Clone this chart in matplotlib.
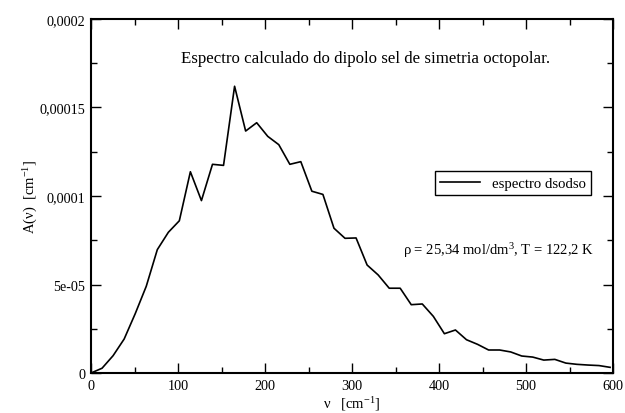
import matplotlib
matplotlib.use('Agg')
import matplotlib.pyplot as plt
from matplotlib.ticker import FixedLocator, FixedFormatter, MultipleLocator

# spectrum (frequency in cm^-1, A in cm^-1)
nu = [0.0, 12.7, 25.4, 38.1, 50.8, 63.5, 76.2, 88.9, 101.5, 114.2,
      126.9, 139.6, 152.3, 165.0, 177.7, 190.4, 203.1, 215.8, 228.5, 241.1,
      253.8, 266.5, 279.2, 291.9, 304.6, 317.3, 330.0, 342.7, 355.3, 368.0,
      380.7, 393.4, 406.1, 418.8, 431.5, 444.2, 456.9, 469.6, 482.3, 495.0,
      507.6, 520.3, 533.0, 545.7, 558.4, 571.1, 583.8, 596.5]
A = [0.0, 2.7e-6, 9.8e-6, 19.2e-6, 33.5e-6, 49.0e-6, 69.7e-6, 79.5e-6, 86.0e-6, 113.7e-6,
     97.4e-6, 117.9e-6, 117.3e-6, 162.0e-6, 136.7e-6, 141.4e-6, 133.7e-6, 129.0e-6, 117.9e-6, 119.4e-6,
     102.7e-6, 100.9e-6, 81.8e-6, 76.1e-6, 76.3e-6, 61.0e-6, 55.4e-6, 47.9e-6, 47.9e-6, 38.6e-6,
     39.0e-6, 32.0e-6, 22.2e-6, 24.3e-6, 18.8e-6, 16.2e-6, 13.0e-6, 13.0e-6, 11.9e-6, 9.6e-6,
     9.0e-6, 7.3e-6, 7.7e-6, 5.6e-6, 4.9e-6, 4.5e-6, 4.2e-6, 3.2e-6]

y_ticks = [0, 5e-5, 1e-4, 1.5e-4, 2e-4]
y_tick_labels = ['0', '5e-05', '0,0001', '0,00015', '0,0002']

plt.rcParams['font.family'] = ['Liberation Serif', 'DejaVu Serif']
plt.rcParams['mathtext.fontset'] = 'custom'
plt.rcParams['mathtext.rm'] = 'Liberation Serif'

fig = plt.figure(figsize=(6.25, 4.14), dpi=100)
ax = fig.add_axes([0.1456, 0.0966, 0.8354, 0.8551])

ax.plot(nu, A, color='black', lw=1.2, label='espectro dsodso')

ax.set_xlim(0, 600)
ax.set_ylim(0, 0.0002)
ax.xaxis.set_major_locator(MultipleLocator(100))
ax.xaxis.set_minor_locator(MultipleLocator(50))
ax.yaxis.set_major_locator(FixedLocator(y_ticks))
ax.yaxis.set_major_formatter(FixedFormatter(y_tick_labels))
ax.yaxis.set_minor_locator(MultipleLocator(2.5e-5))

ax.tick_params(which='both', direction='in', top=True, right=True,
               labelsize=10.2, width=1.0, pad=4)
ax.tick_params(which='major', length=7)
ax.tick_params(which='minor', length=4)
for sp in ax.spines.values():
    sp.set_linewidth(1.5)

ax.set_xlabel('ν   [cm$\\mathrm{^{-1}}$]', fontsize=10.5, labelpad=2)
ax.set_ylabel('A(ν)  [cm$\\mathrm{^{-1}}$]', fontsize=10.5)
ax.yaxis.set_label_coords(-0.097, 0.5)

ax.text(0.525, 0.89, 'Espectro calculado do dipolo sel de simetria octopolar.',
        transform=ax.transAxes, ha='center', va='center', fontsize=12.2)
ax.text(0.598, 0.335, 'ρ = 25,34 mol/dm$\\mathrm{^{3}}$, T = 122,2 K',
        transform=ax.transAxes, ha='left', va='baseline', fontsize=10.5)

leg = ax.legend(loc='upper left', bbox_to_anchor=(0.659, 0.570), fontsize=10.6,
                fancybox=False, edgecolor='black', framealpha=1,
                handlelength=2.7, borderpad=0.35, borderaxespad=0, handletextpad=0.8)
leg.get_frame().set_linewidth(1.0)

fig.savefig('out.png', dpi=100)
